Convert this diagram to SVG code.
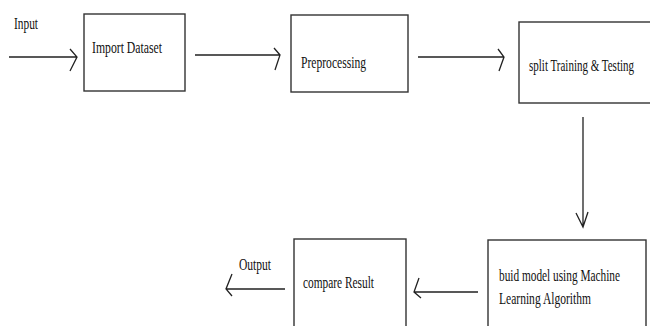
<svg xmlns="http://www.w3.org/2000/svg" width="650" height="326" viewBox="0 0 650 326">
<style>
.box{fill:#fff;stroke:#333;stroke-width:1.4}
.ln{fill:none;stroke:#222;stroke-width:1.3}
text{font-family:"Liberation Serif","Times New Roman",serif;font-size:17px;fill:#111}
</style>
<rect width="650" height="326" fill="#fff"/>
<g id="input-label"><text transform="translate(14 29) scale(0.66 1)" textLength="36.4" lengthAdjust="spacingAndGlyphs">Input</text></g>
<g id="import-dataset">
<rect class="box" x="84" y="14" width="101" height="77"/>
<text transform="translate(92 53) scale(0.66 1)" textLength="106.1" lengthAdjust="spacingAndGlyphs">Import Dataset</text>
</g>
<g id="preprocessing">
<rect class="box" x="291" y="15" width="117" height="77"/>
<text transform="translate(301 68) scale(0.66 1)" textLength="98.5" lengthAdjust="spacingAndGlyphs">Preprocessing</text>
</g>
<g id="split">
<rect class="box" x="519" y="22" width="140" height="81"/>
<text transform="translate(529 71) scale(0.66 1)" textLength="159.1" lengthAdjust="spacingAndGlyphs">split Training &amp; Testing</text>
</g>
<g id="build-model">
<rect class="box" x="488" y="240" width="158" height="100"/>
<text transform="translate(499 281) scale(0.66 1)" textLength="183.3" lengthAdjust="spacingAndGlyphs">buid model using Machine</text>
<text transform="translate(499 304) scale(0.66 1)" textLength="139.4" lengthAdjust="spacingAndGlyphs">Learning Algorithm</text>
</g>
<g id="compare-result">
<rect class="box" x="294" y="239" width="112" height="100"/>
<text transform="translate(303 288) scale(0.66 1)" textLength="107.6" lengthAdjust="spacingAndGlyphs">compare Result</text>
</g>
<g id="output-label"><text transform="translate(239 270) scale(0.66 1)" textLength="48.5" lengthAdjust="spacingAndGlyphs">Output</text></g>
<g id="connectors">
<path class="ln" d="M9 57H77M70 49L77 57L70 71"/>
<path class="ln" d="M195 55H280M274 48L280 55L275 70"/>
<path class="ln" d="M418 57H504M498 49L504 57L499 71"/>
<path class="ln" d="M583 117V227M576 213L583 227L588 212"/>
<path class="ln" d="M478 292H414M419 278L414 292L421 298"/>
<path class="ln" d="M285 289H226M232 274L226 289L232 296"/>
</g>
</svg>
